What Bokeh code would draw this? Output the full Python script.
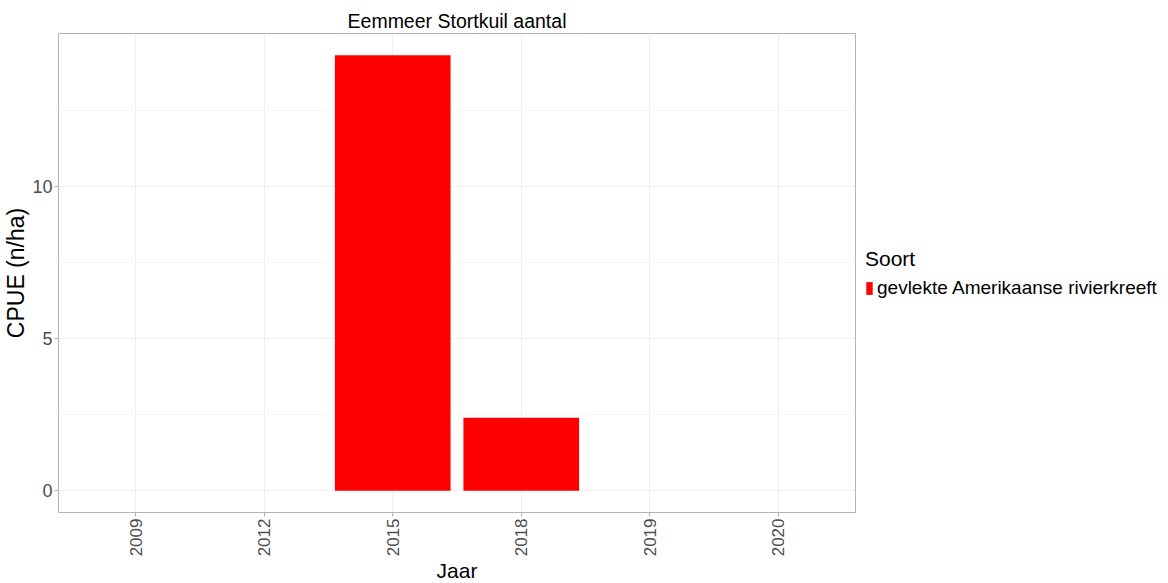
import math
from bokeh.plotting import figure
from bokeh.models import ColumnDataSource, Range1d, FixedTicker, Legend, LegendItem
from bokeh.embed import file_html
from bokeh.resources import INLINE

# Data
years = ["2009", "2012", "2015", "2018", "2019", "2020"]
cpue = [0.0, 0.0, 14.3, 2.4, 0.0, 0.0]
species = "gevlekte Amerikaanse rivierkreeft"
y_ticks = [0, 5, 10]
y_minor = [2.5, 7.5, 12.5]

FONT = "Liberation Sans"
pos = list(range(1, len(years) + 1))
src = ColumnDataSource(dict(x=pos, top=cpue, year=years))

ymax = max(cpue)
pad = ymax * 0.05

p = figure(
    frame_width=797, frame_height=479,
    x_range=Range1d(0.4, len(years) + 0.6),
    y_range=Range1d(-pad, ymax + pad),
    output_backend="svg", toolbar_location=None,
    min_border_left=50, min_border_right=0, min_border_top=33, min_border_bottom=58,
    title="Eemmeer Stortkuil aantal",
)

r = p.vbar(x="x", top="top", width=0.9, source=src, fill_color="#FF0000", line_color=None)

# Title
p.title.align = "center"
p.title.text_font = FONT
p.title.text_font_size = "19.5px"
p.title.text_font_style = "normal"
p.title.text_color = "#000000"
p.title.standoff = 4

# Outline
p.outline_line_color = "#B3B3B3"
p.outline_line_width = 1
p.background_fill_color = "white"
p.border_fill_color = "white"

# X axis
xa = p.xaxis[0]
xa.ticker = FixedTicker(ticks=pos)
xa.major_label_overrides = {i: y for i, y in zip(pos, years)}
xa.major_label_orientation = math.pi / 2
xa.axis_label = "Jaar"
for ax in (p.xaxis[0], p.yaxis[0]):
    ax.axis_line_color = None
    ax.major_tick_line_color = "#B3B3B3"
    ax.major_tick_out = 4
    ax.major_tick_in = 0
    ax.minor_tick_line_color = None
    ax.major_label_text_font = FONT
    ax.major_label_text_font_size = "17px"
    ax.major_label_text_color = "#4D4D4D"
    ax.major_label_standoff = 2
    ax.axis_label_text_font = FONT
    ax.axis_label_text_font_style = "normal"
    ax.axis_label_text_color = "#000000"
    ax.axis_label_standoff = 0
xa.axis_label_text_font_size = "21px"

ya = p.yaxis[0]
ya.ticker = FixedTicker(ticks=y_ticks, minor_ticks=y_minor)
ya.axis_label = "CPUE (n/ha)"
ya.axis_label_text_font_size = "23px"
ya.major_label_text_font_size = "18px"

# Grid
p.xgrid.ticker = FixedTicker(ticks=pos)
p.xgrid.grid_line_color = "#EFEFEF"
p.ygrid.grid_line_color = "#EFEFEF"
p.ygrid.minor_grid_line_color = "#F6F6F6"

legend = Legend(
    items=[LegendItem(label=species, renderers=[r])],
    title="Soort",
    location="center_left",
    title_text_font=FONT, title_text_font_size="21px", title_text_font_style="normal",
    title_text_color="#000000", title_standoff=6,
    label_text_font=FONT, label_text_font_size="19px", label_text_color="#000000",
    glyph_width=8, glyph_height=16, label_standoff=4,
    padding=0, margin=10, spacing=0,
    border_line_color=None, background_fill_alpha=0,
)
p.add_layout(legend, "right")

open("out.html", "w").write(file_html(p, INLINE))
